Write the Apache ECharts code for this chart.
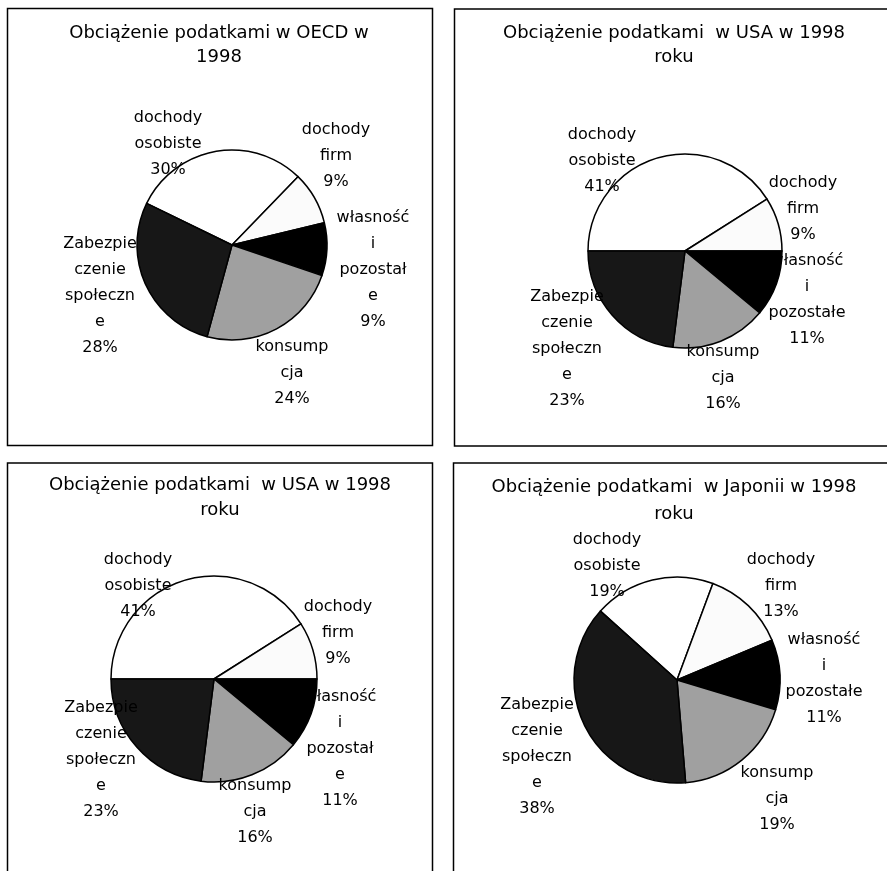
<!DOCTYPE html>
<html>
<head>
<meta charset="utf-8">
<script src="https://cdn.jsdelivr.net/npm/echarts@6/dist/echarts.min.js"></script>
<style>
html,body{margin:0;padding:0;background:#fff;}
#chart{width:887px;height:871px;}
</style>
</head>
<body>
<div id="chart"></div>
<script>
// ---- data ----
const categories = ['dochody osobiste', 'dochody firm', 'własność i pozostałe', 'konsumpcja', 'Zabezpieczenie społeczne'];
const oecd1998 = [30, 9, 9, 24, 28];
const usa1998 = [41, 9, 11, 16, 23];
const japan1998 = [19, 13, 11, 19, 38];

const titles = [
  'Obciążenie podatkami w OECD w\n1998',
  'Obciążenie podatkami  w USA w 1998\nroku',
  'Obciążenie podatkami  w USA w 1998\nroku',
  'Obciążenie podatkami  w Japonii w 1998\nroku'
];
const labelsOECD = ['dochody\nosobiste', 'dochody\nfirm', 'własność\ni\npozostał\ne', 'konsump\ncja', 'Zabezpie\nczenie\nspołeczn\ne'];
const labelsUSAtop = ['dochody\nosobiste', 'dochody\nfirm', 'własność\ni\npozostałe', 'konsump\ncja', 'Zabezpie\nczenie\nspołeczn\ne'];
const labelsUSAbottom = ['dochody\nosobiste', 'dochody\nfirm', 'własność\ni\npozostał\ne', 'konsump\ncja', 'Zabezpie\nczenie\nspołeczn\ne'];
const labelsJapan = ['dochody\nosobiste', 'dochody\nfirm', 'własność\ni\npozostałe', 'konsump\ncja', 'Zabezpie\nczenie\nspołeczn\ne'];

// ---- styles / layout ----
const FONT = '"DejaVu Sans", "Liberation Sans", sans-serif';
const sliceColors = ['#ffffff', '#fbfbfb', '#000000', '#a0a0a0', '#171717'];

const panels = [
  { values: oecd1998, labels: labelsOECD, center: [232, 245], r: 95, start: 154,
    titleX: 219, titleTop: 21, titleLH: 24,
    labelPos: [[168, 144], [336, 156], [373, 270], [292, 373], [100, 296]] },
  { values: usa1998, labels: labelsUSAtop, center: [685, 251], r: 97, start: 180,
    titleX: 674, titleTop: 21, titleLH: 24,
    labelPos: [[602, 161], [803, 209], [807, 300], [723, 378], [567, 349]] },
  { values: usa1998, labels: labelsUSAbottom, center: [214, 679], r: 103, start: 180,
    titleX: 220, titleTop: 473, titleLH: 25,
    labelPos: [[138, 586], [338, 633], [340, 749], [255, 812], [101, 760]] },
  { values: japan1998, labels: labelsJapan, center: [677, 680], r: 103, start: 138,
    titleX: 674, titleTop: 474, titleLH: 27,
    labelPos: [[607, 566], [781, 586], [824, 679], [777, 799], [537, 757]] }
];

const chart = echarts.init(document.getElementById('chart'), null, { renderer: 'canvas' });

const option = {
  backgroundColor: '#ffffff',
  animation: false,
  title: panels.map((p, i) => ({
    text: titles[i],
    left: p.titleX,
    top: p.titleTop,
    textAlign: 'center',
    padding: 0,
    textStyle: { fontFamily: FONT, fontSize: 18, fontWeight: 'normal', color: '#000', lineHeight: p.titleLH }
  })),
  graphic: [
    { type: 'rect', shape: { x: 7.5, y: 8.5, width: 425, height: 437 }, style: { fill: 'none', stroke: '#000', lineWidth: 1.5 }, z: -1 },
    { type: 'rect', shape: { x: 454.5, y: 9, width: 460, height: 437 }, style: { fill: 'none', stroke: '#000', lineWidth: 1.5 }, z: -1 },
    { type: 'rect', shape: { x: 7.5, y: 463, width: 425, height: 460 }, style: { fill: 'none', stroke: '#000', lineWidth: 1.5 }, z: -1 },
    { type: 'rect', shape: { x: 453.5, y: 463, width: 460, height: 460 }, style: { fill: 'none', stroke: '#000', lineWidth: 1.5 }, z: -1 }
  ],
  series: panels.map((p, si) => ({
    type: 'pie',
    center: p.center,
    radius: p.r,
    startAngle: p.start,
    clockwise: true,
    avoidLabelOverlap: false,
    silent: true,
    data: categories.map((name, k) => ({
      name: name,
      value: p.values[k],
      itemStyle: { color: sliceColors[k] }
    })),
    itemStyle: { borderColor: '#000', borderWidth: 1.5 },
    label: {
      show: true,
      position: 'outside',
      formatter: (params) => p.labels[params.dataIndex] + '\n' + p.values[params.dataIndex] + '%',
      fontFamily: FONT,
      fontSize: 16,
      lineHeight: 26,
      color: '#000',
      align: 'center'
    },
    labelLine: { show: false },
    labelLayout: (params) => {
      const pos = p.labelPos[params.dataIndex];
      return { x: pos[0], y: pos[1], align: 'center', verticalAlign: 'middle' };
    },
    emphasis: { disabled: true }
  }))
};

chart.setOption(option);
</script>
</body>
</html>
